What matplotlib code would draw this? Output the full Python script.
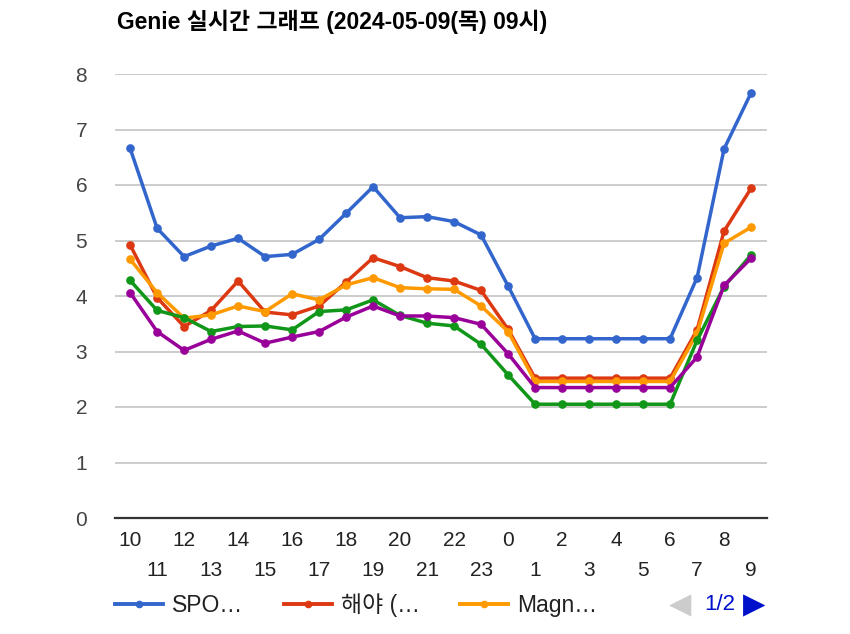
import matplotlib
matplotlib.use("Agg")
import matplotlib.pyplot as plt
import matplotlib.transforms as mtransforms

plt.rcParams['font.family'] = ['Liberation Sans', 'Noto Sans CJK KR', 'DejaVu Sans']

hours = ['10', '11', '12', '13', '14', '15', '16', '17', '18', '19', '20', '21',
         '22', '23', '0', '1', '2', '3', '4', '5', '6', '7', '8', '9']

spo = [6.66, 5.22, 4.71, 4.90, 5.04, 4.71, 4.75, 5.02, 5.49, 5.97, 5.41, 5.43,
       5.34, 5.10, 4.18, 3.23, 3.23, 3.23, 3.23, 3.23, 3.23, 4.33, 6.65, 7.66]
haeya = [4.92, 3.97, 3.45, 3.74, 4.27, 3.71, 3.66, 3.82, 4.25, 4.69, 4.53, 4.33,
         4.27, 4.10, 3.40, 2.52, 2.52, 2.52, 2.52, 2.52, 2.52, 3.39, 5.17, 5.94]
magn = [4.66, 4.06, 3.60, 3.66, 3.82, 3.72, 4.04, 3.93, 4.20, 4.33, 4.15, 4.13,
        4.12, 3.82, 3.36, 2.46, 2.46, 2.46, 2.46, 2.46, 2.46, 3.33, 4.95, 5.24]
green_s = [4.28, 3.74, 3.61, 3.36, 3.45, 3.46, 3.39, 3.72, 3.75, 3.93, 3.65, 3.51,
           3.46, 3.13, 2.58, 2.05, 2.05, 2.05, 2.05, 2.05, 2.05, 3.20, 4.17, 4.74]
purple_s = [4.06, 3.36, 3.02, 3.22, 3.37, 3.15, 3.26, 3.36, 3.62, 3.82, 3.64, 3.64,
            3.61, 3.49, 2.96, 2.35, 2.35, 2.35, 2.35, 2.35, 2.35, 2.90, 4.19, 4.68]

series = [(spo, '#3366cc', 'SPO…'), (haeya, '#dc3912', '해야 (…'),
          (magn, '#ff9900', 'Magn…'), (green_s, '#109618', None),
          (purple_s, '#990099', None)]

fig = plt.figure(figsize=(8.5, 6.34), dpi=100)
ax = fig.add_axes([115/850, 1-518/634, (767-115)/850, (518-74)/634])

x = list(range(len(hours)))
handles = []
for vals, col, name in series:
    ln, = ax.plot(x, vals, color=col, lw=2.5, marker='o', ms=5.2, zorder=3)
    if name:
        ln.set_label(name)
        handles.append(ln)

ax.set_xlim(-0.56, 23.59)
ax.set_ylim(0, 8)
ax.set_yticks(range(0, 9))
ax.yaxis.grid(True, color='#cccccc', lw=1.4)
ax.set_axisbelow(True)
for s in ['top', 'right', 'left']:
    ax.spines[s].set_visible(False)
ax.spines['bottom'].set_color('#333333')
ax.spines['bottom'].set_linewidth(1.6)
ax.spines['bottom'].set_zorder(4)
ax.tick_params(axis='y', length=0, pad=20, labelsize=15, labelcolor='#444444')
ax.set_xticks([])

trans = mtransforms.blended_transform_factory(ax.transData, fig.transFigure)
for i, h in enumerate(hours):
    yy = 1 - 541/634 if i % 2 == 0 else 1 - 571/634
    ax.text(i, yy, h, transform=trans, ha='center', va='center',
            fontsize=15, color='#222222')

fig.text(117/850, 1-22/634, 'Genie 실시간 그래프 (2024-05-09(목) 09시)',
         fontsize=16.5, fontweight='bold', color='#000000', va='center', ha='left')

leg = fig.legend(handles=handles, loc='center left', bbox_to_anchor=(115/850, 1-605/634),
                 ncol=3, frameon=False, fontsize=16.5, handlelength=2.1,
                 handletextpad=0.4, columnspacing=1.75, labelcolor='#222222',
                 borderpad=0, borderaxespad=0)
for lh in leg.legend_handles:
    lh.set_markersize(4.5)
    lh.set_linewidth(2.8)

fig.text(680/850, 1-605/634, '◀', fontsize=21, color='#cccccc', ha='center', va='center',
         family='DejaVu Sans')
fig.text(720/850, 1-605/634, '1/2', fontsize=16, color='#0011cc', ha='center', va='center')
fig.text(754/850, 1-605/634, '▶', fontsize=21, color='#0011cc', ha='center', va='center',
         family='DejaVu Sans')

fig.savefig('out.png', dpi=100, facecolor='white')
